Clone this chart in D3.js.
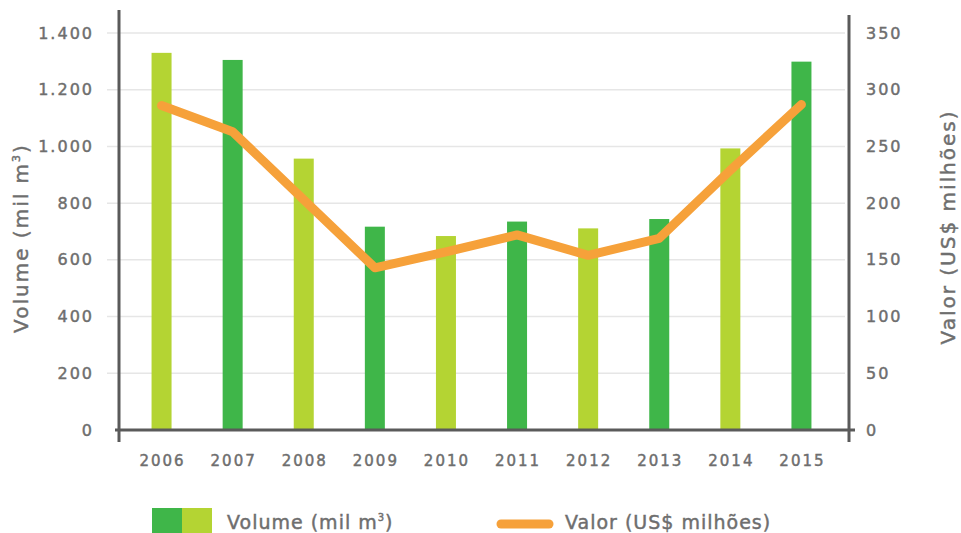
<!DOCTYPE html>
<html lang="pt">
<head>
<meta charset="utf-8">
<title>Volume e Valor</title>
<script src="https://d3js.org/d3.v7.min.js"></script>
<style>
  body { margin: 0; background: #fff; overflow: hidden; }
  svg { display: block; }
  svg text { font-family: "DejaVu Sans", sans-serif; fill: #6e6e6e; stroke: #6e6e6e; stroke-width: 0.45px; }
</style>
</head>
<body>
<svg id="chart" width="961" height="533"></svg>
<script>
// data
var years = ["2006","2007","2008","2009","2010","2011","2012","2013","2014","2015"];
var volume = [1330, 1305, 957, 717, 684, 735, 711, 744, 993, 1299];
var valor = [286, 263, 203, 143, 157, 172, 154, 169, 229, 287];
var volTicks = [0, 200, 400, 600, 800, 1000, 1200, 1400];
var valTicks = [0, 50, 100, 150, 200, 250, 300, 350];

var lightGreen = "#b4d433", darkGreen = "#3fb649", orange = "#f6a13a";
var axisCol = "#5a5a5a";

var svg = d3.select("#chart");
var pLeft = 119, pRight = 849, pTop = 33, pBottom = 430;

var x = d3.scaleBand().domain(years).range([126, 837]);
var yL = d3.scaleLinear().domain([0, 1400]).range([pBottom, pTop]);
var yR = d3.scaleLinear().domain([0, 350]).range([pBottom, pTop]);
var barW = 20;

// grid
svg.append("g").selectAll("line")
  .data(volTicks.slice(1))
  .enter().append("line")
  .attr("x1", pLeft - 12).attr("x2", pRight - 4)
  .attr("y1", d => yL(d)).attr("y2", d => yL(d))
  .attr("stroke", "#e6e6e6").attr("stroke-width", 1.5);

// bars
svg.append("g").selectAll("rect")
  .data(volume)
  .enter().append("rect")
  .attr("x", (d, i) => x(years[i]) + x.bandwidth() / 2 - barW / 2)
  .attr("y", d => yL(d))
  .attr("width", barW)
  .attr("height", d => pBottom - yL(d))
  .attr("fill", (d, i) => i % 2 == 0 ? lightGreen : darkGreen);

// axes
var fmt = d3.format(",");
function styleTicks(sel, size) {
  sel.style("font-size", size).style("letter-spacing", "2px")
    .style("font-family", '"DejaVu Sans", sans-serif')
    .attr("fill", "#737373").attr("stroke", "#737373").attr("stroke-width", 0.35);
}
var yAxisL = d3.axisLeft(yL).tickValues(volTicks).tickSize(0).tickPadding(25)
  .tickFormat(d => fmt(d).replace(/,/g, "."));
svg.append("g").attr("transform", "translate(" + pLeft + ",0)").call(yAxisL)
  .call(g => g.select(".domain").remove())
  .selectAll("text").call(styleTicks, "16px");

var yAxisR = d3.axisRight(yR).tickValues(valTicks).tickSize(0).tickPadding(17);
svg.append("g").attr("transform", "translate(" + pRight + ",0)").call(yAxisR)
  .call(g => g.select(".domain").remove())
  .selectAll("text").call(styleTicks, "16px");

var xAxis = d3.axisBottom(x).tickSize(0).tickPadding(25);
svg.append("g").attr("transform", "translate(1," + pBottom + ")").call(xAxis)
  .call(g => g.select(".domain").remove())
  .selectAll("text").call(styleTicks, "15px");

// axis lines
svg.append("line").attr("x1", pLeft).attr("x2", pLeft).attr("y1", 10).attr("y2", 442)
  .attr("stroke", axisCol).attr("stroke-width", 3);
svg.append("line").attr("x1", pRight).attr("x2", pRight).attr("y1", 15).attr("y2", 442)
  .attr("stroke", axisCol).attr("stroke-width", 3);
svg.append("line").attr("x1", 115).attr("x2", 855).attr("y1", pBottom).attr("y2", pBottom)
  .attr("stroke", axisCol).attr("stroke-width", 3);

// line
var line = d3.line()
  .x((d, i) => x(years[i]) + x.bandwidth() / 2)
  .y(d => yR(d));
svg.append("path").datum(valor)
  .attr("d", line)
  .attr("fill", "none")
  .attr("stroke", orange)
  .attr("stroke-width", 9)
  .attr("stroke-linejoin", "round")
  .attr("stroke-linecap", "round");

// axis titles
svg.append("text")
  .attr("transform", "translate(28,238) rotate(-90)")
  .attr("text-anchor", "middle")
  .style("font-size", "20px").style("letter-spacing", "2px")
  .html('Volume (mil m<tspan dy="-8" style="font-size:11px">3</tspan><tspan dy="8">)</tspan>');
svg.append("text")
  .attr("transform", "translate(955,227) rotate(-90)")
  .attr("text-anchor", "middle")
  .style("font-size", "20px").style("letter-spacing", "2px")
  .text("Valor (US$ milhões)");

// legend
svg.append("rect").attr("x", 152).attr("y", 508).attr("width", 30).attr("height", 25).attr("fill", darkGreen);
svg.append("rect").attr("x", 182).attr("y", 508).attr("width", 30).attr("height", 25).attr("fill", lightGreen);
svg.append("text").attr("x", 227).attr("y", 529)
  .style("font-size", "19px").style("letter-spacing", "1px")
  .html('Volume (mil m<tspan dy="-8" style="font-size:10px">3</tspan><tspan dy="8">)</tspan>');
svg.append("line").attr("x1", 501).attr("x2", 549).attr("y1", 524).attr("y2", 524)
  .attr("stroke", orange).attr("stroke-width", 9).attr("stroke-linecap", "round");
svg.append("text").attr("x", 565).attr("y", 529)
  .style("font-size", "19px").style("letter-spacing", "1px")
  .text("Valor (US$ milhões)");
</script>
</body>
</html>
